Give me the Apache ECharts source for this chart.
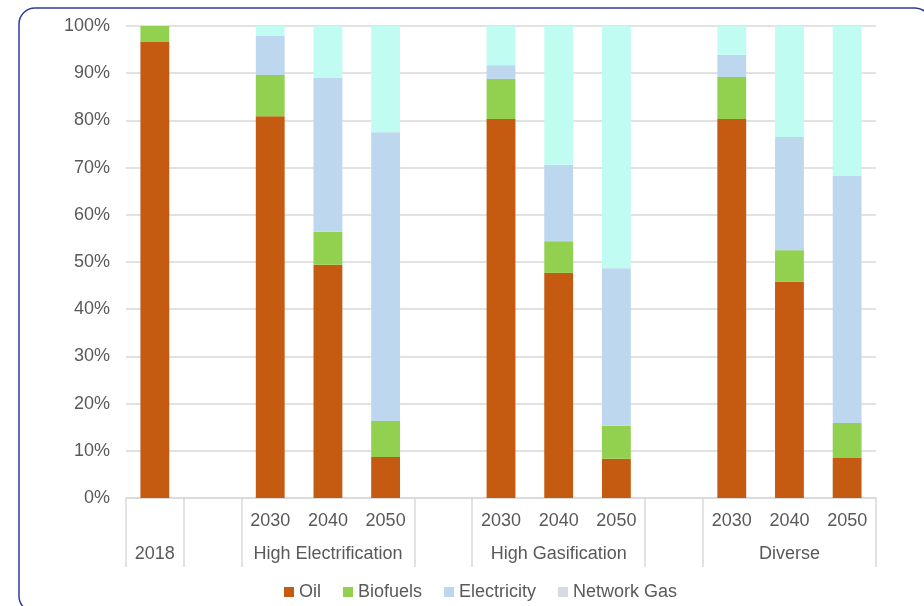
<!DOCTYPE html>
<html>
<head>
<meta charset="utf-8">
<title>Energy share by scenario</title>
<script src="https://cdn.jsdelivr.net/npm/echarts@6/dist/echarts.min.js"></script>
<style>
  html, body { margin: 0; padding: 0; background: #ffffff; }
  #chart { width: 924px; height: 606px; }
</style>
</head>
<body>
<div id="chart"></div>
<script>
// Slots along the category axis (blank slots separate the scenario groups)
const yearLabels = ['', '', '2030', '2040', '2050', '', '2030', '2040', '2050', '', '2030', '2040', '2050'];
const groupLabels = ['2018', '', '', 'High Electrification', '', '', '', 'High Gasification', '', '', '', 'Diverse', ''];
// Indices where a group separator line starts
const separatorAt = [0, 1, 2, 5, 6, 9, 10];

// Share of total (%) per series
const oil         = [96.6, null, 80.9, 49.4, 8.7, null, 80.3, 47.7, 8.3, null, 80.3, 45.8, 8.5];
const biofuels    = [3.4,  null, 8.7,  7.0,  7.6, null, 8.5,  6.7,  7.0, null, 8.9,  6.7,  7.4];
const electricity = [0,    null, 8.3,  32.6, 61.2, null, 2.9, 16.2, 33.4, null, 4.7, 24.0, 52.3];
const networkGas  = [0,    null, 2.1,  11.0, 22.5, null, 8.3, 29.4, 51.3, null, 6.1, 23.5, 31.8];

const yTicks = [0, 10, 20, 30, 40, 50, 60, 70, 80, 90, 100];

const font = '"Liberation Sans", Arial, sans-serif';
const textColor = '#595959';
const gridColor = '#d9d9d9';

const chart = echarts.init(document.getElementById('chart'), null, { renderer: 'canvas' });

function barSeries(name, data, color) {
  return {
    name: name,
    type: 'bar',
    stack: 'share',
    xAxisIndex: 0,
    barWidth: '50%',
    data: data,
    itemStyle: { color: color },
    emphasis: { disabled: true }
  };
}

chart.setOption({
  animation: false,
  backgroundColor: '#ffffff',
  textStyle: { fontFamily: font },
  graphic: [{
    type: 'rect',
    shape: { x: 19, y: 8, width: 912, height: 604, r: 16 },
    style: { fill: 'none', stroke: '#2e3c9c', lineWidth: 1.5 },
    silent: true
  }],
  grid: { left: 126, right: 48, top: 26, bottom: 108, containLabel: false },
  legend: {
    top: 578,
    left: 279,
    icon: 'rect',
    itemWidth: 10,
    itemHeight: 10,
    itemGap: 22,
    textStyle: { fontFamily: font, fontSize: 18, color: textColor },
    data: [
      { name: 'Oil' },
      { name: 'Biofuels' },
      { name: 'Electricity' },
      { name: 'Network Gas', itemStyle: { color: '#d6dce4' } }
    ]
  },
  xAxis: [{
    type: 'category',
    data: yearLabels,
    position: 'bottom',
    axisLine: { show: true, lineStyle: { color: gridColor, width: 1.5 } },
    axisTick: {
      show: true,
      length: 69,
      interval: function (index) { return separatorAt.indexOf(index) !== -1; },
      lineStyle: { color: gridColor, width: 1.5 }
    },
    axisLabel: { interval: 0, margin: 14, fontFamily: font, fontSize: 18, color: textColor }
  }, {
    type: 'category',
    data: groupLabels,
    position: 'bottom',
    gridIndex: 0,
    axisLine: { show: false },
    axisTick: { show: false },
    axisLabel: { interval: 0, margin: 47, fontFamily: font, fontSize: 18, color: textColor }
  }],
  yAxis: {
    type: 'value',
    min: yTicks[0],
    max: yTicks[yTicks.length - 1],
    interval: 10,
    axisLine: { show: false },
    axisTick: { show: false },
    splitLine: { lineStyle: { color: gridColor, width: 1.5 } },
    axisLabel: { margin: 16, fontFamily: font, fontSize: 18, color: textColor, formatter: '{value}%' }
  },
  series: [
    barSeries('Oil', oil, '#c55a11'),
    barSeries('Biofuels', biofuels, '#92d050'),
    barSeries('Electricity', electricity, '#bdd7ee'),
    barSeries('Network Gas', networkGas, '#c0fcf2')
  ]
});
</script>
</body>
</html>
